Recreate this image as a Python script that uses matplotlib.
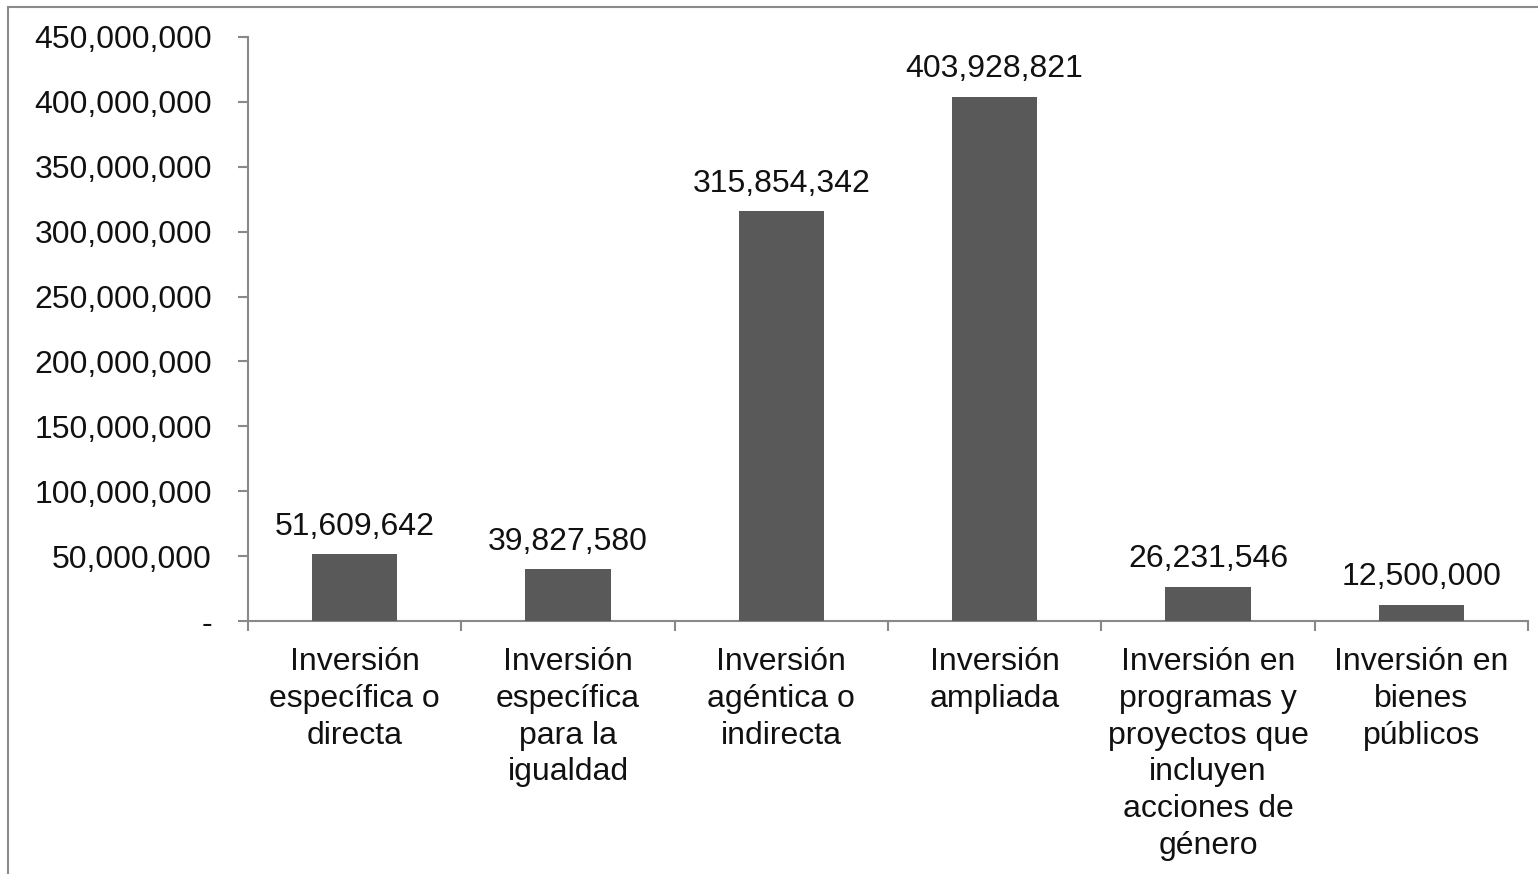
import matplotlib
matplotlib.use("Agg")
import matplotlib.pyplot as plt
from matplotlib.patches import Rectangle
from matplotlib.ticker import FuncFormatter, MultipleLocator

plt.rcParams['font.family'] = ['Liberation Sans', 'DejaVu Sans']

categories = [
    "Inversión\nespecífica o\ndirecta",
    "Inversión\nespecífica\npara la\nigualdad",
    "Inversión\nagéntica o\nindirecta",
    "Inversión\nampliada",
    "Inversión en\nprogramas y\nproyectos que\nincluyen\nacciones de\ngénero",
    "Inversión en\nbienes\npúblicos",
]
values = [51609642, 39827580, 315854342, 403928821, 26231546, 12500000]

FS = 23

fig = plt.figure(figsize=(15.38, 8.74), dpi=100)
ax = fig.add_axes([248/1538, 1 - 621/874, 1280/1538, (621-37)/874])

x = list(range(len(values)))
ax.bar(x, values, width=0.4, color='#595959', zorder=3)
for xi, v in zip(x, values):
    ax.annotate(f"{v:,}", (xi, v), xytext=(0, 9), textcoords='offset points',
                ha='center', va='bottom', fontsize=FS, color='#111111')

ax.set_xlim(-0.5, len(values) - 0.5)
ax.set_ylim(0, 450000000)
ax.yaxis.set_major_locator(MultipleLocator(50000000))
ax.yaxis.set_major_formatter(FuncFormatter(lambda v, p: '-' if v == 0 else f"{int(v):,}"))

ax.set_xticks(x)
ax.set_xticklabels(categories, fontsize=FS, linespacing=1.29, color='#111111')
ax.tick_params(axis='x', length=0, pad=19)
ax.set_xticks([i - 0.5 for i in range(len(values) + 1)], minor=True)
ax.tick_params(axis='x', which='minor', length=7, width=1.5, color='#898989')
ax.tick_params(axis='y', length=7, width=1.5, color='#898989', labelsize=FS,
               labelcolor='#111111', pad=19)

for s in ['top', 'right']:
    ax.spines[s].set_visible(False)
for s in ['left', 'bottom']:
    ax.spines[s].set_color('#898989')
    ax.spines[s].set_linewidth(1.5)

# figure border (chart area frame)
fig.patches.append(Rectangle((8/1538, -0.1), 1.2, 1 - 7/874 + 0.1, transform=fig.transFigure,
                             fill=False, edgecolor='#8a8a8a', linewidth=1.5))

fig.savefig("out.png", dpi=100)
